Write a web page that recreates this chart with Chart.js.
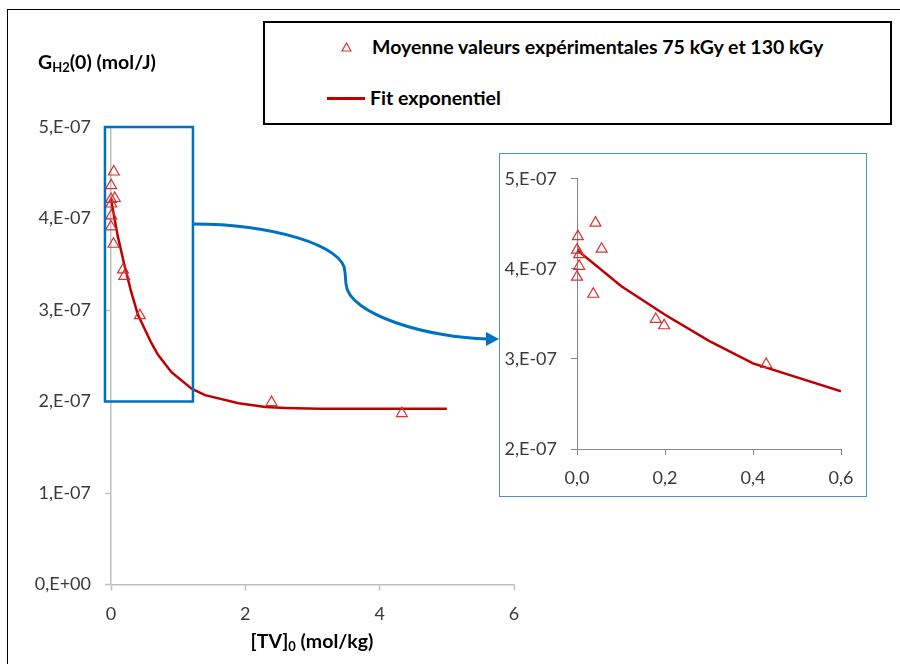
<!DOCTYPE html>
<html>
<head>
<meta charset="utf-8">
<script src="https://cdn.jsdelivr.net/npm/chart.js@4.4.1/dist/chart.umd.min.js"></script>
<style>
  body { margin: 0; width: 900px; height: 664px; overflow: hidden; background: #fff; position: relative; font-family: Lato, sans-serif; }
  #frame { position: absolute; left: 7px; top: 9px; width: 1000px; height: 1000px; border: 1.5px solid #000; }
  #main { position: absolute; left: 0; top: 0; }
  #legend { position: absolute; left: 263px; top: 21px; width: 629px; height: 104px; box-sizing: border-box; border: 2px solid #000; background: #fff; font-weight: bold; font-size: 19.5px; color: #000; }
  #legend .txt { position: absolute; white-space: nowrap; line-height: 24px; }
  #inset { position: absolute; left: 499px; top: 153px; width: 368px; height: 344px; box-sizing: border-box; border: 1px solid #4a8fd0; background: #fff; }
  .title { position: absolute; font-weight: bold; font-size: 19.5px; line-height: 24px; color: #000; white-space: nowrap; }
  .title sub { font-size: 13px; vertical-align: -3px; }
</style>
</head>
<body>
<div id="frame"></div>
<canvas id="main" width="900" height="664"></canvas>
<div class="title" style="left:38px; top:50px;">G<sub>H2</sub>(0) (mol/J)</div>
<div class="title" style="left:212px; top:629px; width:200px; text-align:center;">[TV]<sub>0</sub> (mol/kg)</div>
<div id="legend">
  <svg style="position:absolute; left:76px; top:19px;" width="11" height="10"><polygon points="5.5,1 10,9 1,9" fill="none" stroke="#d9302c" stroke-width="1.2"/></svg>
  <div class="txt" style="left:107px; top:12px;">Moyenne valeurs expérimentales 75 kGy et 130 kGy</div>
  <div style="position:absolute; left:62px; top:74px; width:38px; height:2.5px; background:#c00000;"></div>
  <div class="txt" style="left:105px; top:63px;">Fit exponentiel</div>
</div>
<div id="inset"><canvas id="zoom" width="366" height="342"></canvas></div>

<script>
// mean experimental values (75 kGy and 130 kGy)
const expX = [0.042, 0.002, 0.0, 0.005, 0.056, 0.005, 0.0, 0.037, 0.179, 0.198, 0.43, 2.39, 4.33];
const expY = [4.51e-7, 4.36e-7, 4.21e-7, 4.16e-7, 4.22e-7, 4.03e-7, 3.91e-7, 3.72e-7, 3.44e-7, 3.37e-7, 2.94e-7, 1.99e-7, 1.87e-7];

// exponential fit
const fitX = [0, 0.1, 0.2, 0.3, 0.4, 0.6, 0.7, 0.9, 1.2, 1.4, 1.9, 2.3, 2.6, 3.1, 4, 5];
const fitY = [4.21e-7, 3.81e-7, 3.49e-7, 3.20e-7, 2.95e-7, 2.64e-7, 2.51e-7, 2.32e-7, 2.14e-7, 2.07e-7, 1.98e-7, 1.94e-7, 1.93e-7, 1.92e-7, 1.92e-7, 1.92e-7];

// zoomed region shown in the inset
const boxX = [-0.09, 1.22];
const boxY = [2e-7, 5e-7];

const pts = (xs, ys) => xs.map((x, i) => ({ x: x, y: ys[i] }));

const sciLabel = v => {
  if (Math.abs(v) < 1e-12) return '0,E+00';
  const e = Math.floor(Math.log10(v) + 1e-9);
  const m = Math.round(v / Math.pow(10, e));
  return m + ',E-' + String(-e).padStart(2, '0');
};

const tickFont = { family: 'Lato', size: 18 };
const tickColor = '#3a3a3a';

function datasets() {
  return [{
    label: 'Moyenne valeurs expérimentales 75 kGy et 130 kGy',
    data: pts(expX, expY),
    showLine: false,
    pointStyle: 'triangle',
    pointRadius: 6.3,
    borderWidth: 1.2,
    borderColor: '#d9302c',
    backgroundColor: 'rgba(0,0,0,0)',
    clip: false
  }, {
    label: 'Fit exponentiel',
    data: pts(fitX, fitY),
    showLine: true,
    pointRadius: 0,
    borderColor: '#c00000',
    borderWidth: 2.5,
    tension: 0,
    clip: 0
  }];
}

const zoomBox = {
  id: 'zoomBox',
  afterDraw(chart) {
    const { ctx, scales: { x, y } } = chart;
    const left = x.getPixelForValue(boxX[0]);
    const right = x.getPixelForValue(boxX[1]);
    const top = y.getPixelForValue(boxY[1]);
    const bottom = y.getPixelForValue(boxY[0]);
    ctx.save();
    ctx.strokeStyle = '#0070c0';
    ctx.lineWidth = 2.5;
    ctx.strokeRect(left, top, right - left, bottom - top);
    // curved arrow towards the inset
    ctx.lineWidth = 3;
    ctx.beginPath();
    ctx.moveTo(right, 224);
    ctx.bezierCurveTo(270, 224, 345, 245, 345, 272);
    ctx.lineTo(346, 284);
    ctx.bezierCurveTo(348, 315, 430, 338, 488, 339);
    ctx.stroke();
    ctx.fillStyle = '#0070c0';
    ctx.beginPath();
    ctx.moveTo(486, 332);
    ctx.lineTo(499, 339);
    ctx.lineTo(486, 346);
    ctx.closePath();
    ctx.fill();
    ctx.restore();
  }
};

new Chart(document.getElementById('main'), {
  type: 'scatter',
  data: { datasets: datasets() },
  options: {
    responsive: false,
    animation: false,
    events: [],
    layout: { padding: { left: 0, right: 386, top: 127, bottom: 0 } },
    plugins: { legend: { display: false }, tooltip: { enabled: false } },
    scales: {
      x: {
        type: 'linear', min: 0, max: 6,
        ticks: { stepSize: 2, font: tickFont, color: tickColor, padding: 13 },
        grid: { drawOnChartArea: false, color: '#bfbfbf', tickLength: 6, tickWidth: 1.5 },
        border: { color: '#bfbfbf', width: 1.5 },
        afterFit: s => { s.height = 79.5; }
      },
      y: {
        type: 'linear', min: 0, max: 5e-7,
        ticks: { stepSize: 1e-7, font: tickFont, color: tickColor, padding: 14, callback: sciLabel },
        grid: { drawOnChartArea: false, color: '#bfbfbf', tickLength: 6, tickWidth: 1.5 },
        border: { color: '#bfbfbf', width: 1.5 },
        afterFit: s => { s.width = 111; }
      }
    }
  },
  plugins: [zoomBox]
});

new Chart(document.getElementById('zoom'), {
  type: 'scatter',
  data: { datasets: datasets() },
  options: {
    responsive: false,
    animation: false,
    events: [],
    layout: { padding: { left: 0, right: 25, top: 20, bottom: 0 } },
    plugins: { legend: { display: false }, tooltip: { enabled: false } },
    scales: {
      x: {
        type: 'linear', min: 0, max: 0.6,
        ticks: { stepSize: 0.2, font: tickFont, color: tickColor, padding: 12, callback: v => v.toFixed(1).replace('.', ',') },
        grid: { drawOnChartArea: false, color: '#868686', tickLength: 6, tickWidth: 1 },
        border: { color: '#868686', width: 1 },
        afterFit: s => { s.height = 47; }
      },
      y: {
        type: 'linear', min: 2e-7, max: 5e-7,
        ticks: { stepSize: 1e-7, font: tickFont, color: tickColor, padding: 14, callback: sciLabel },
        grid: { drawOnChartArea: false, color: '#868686', tickLength: 6, tickWidth: 1 },
        border: { color: '#868686', width: 1 },
        afterFit: s => { s.width = 77; }
      }
    }
  }
});
</script>
</body>
</html>
